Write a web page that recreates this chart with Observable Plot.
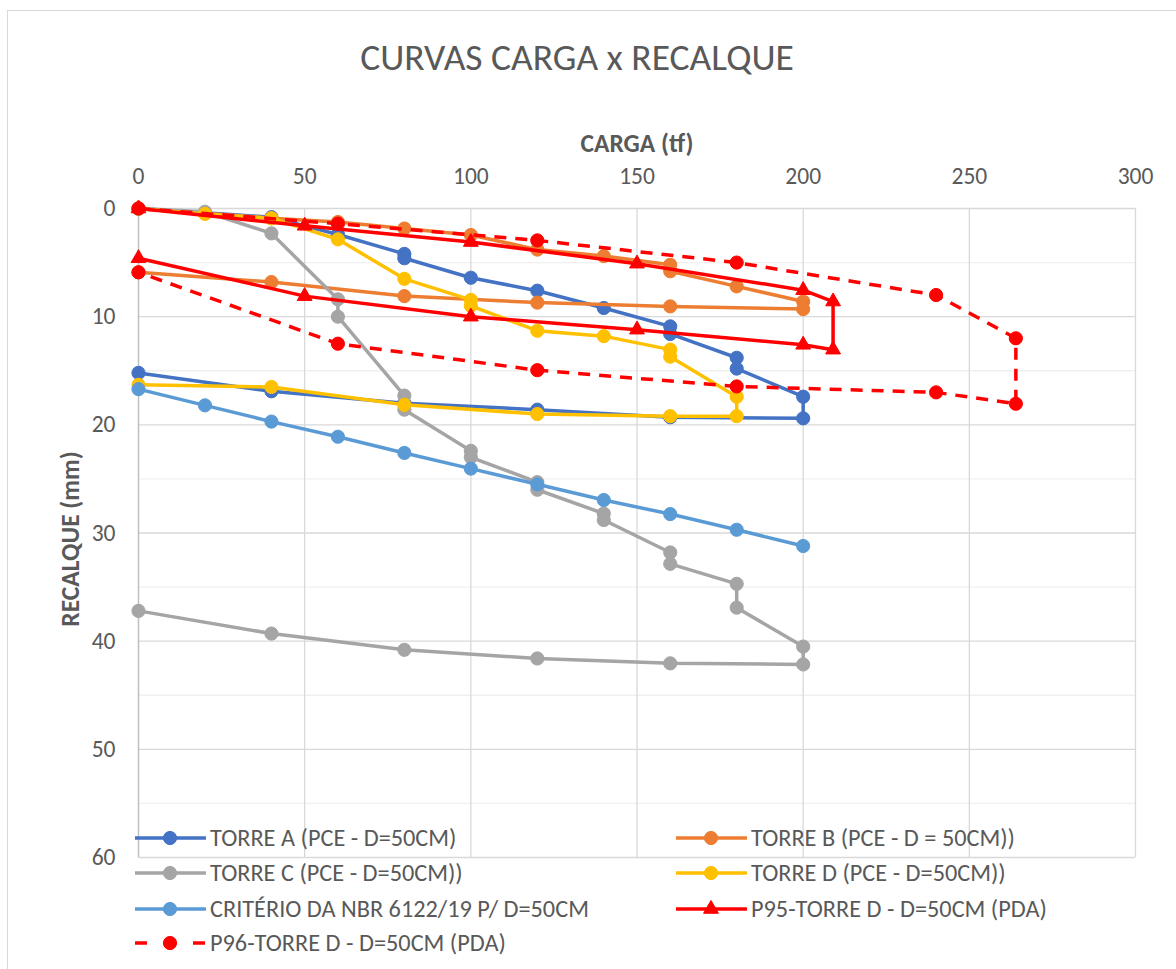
<!DOCTYPE html>
<html><head><meta charset="utf-8">
<script src="https://cdn.jsdelivr.net/npm/d3@7"></script>
<script src="https://cdn.jsdelivr.net/npm/@observablehq/plot@0.6"></script>
<style>
body{margin:0;background:#fff;}
#wrap{position:relative;width:1176px;height:969px;overflow:hidden;font-family:Carlito,Calibri,"Open Sans",sans-serif;color:#595959;}
#border{position:absolute;left:7px;top:10px;width:1220px;height:1020px;border:1.5px solid #D9D9D9;}
#chart{position:absolute;left:0;top:0;}
#title{position:absolute;left:0;width:1154px;top:33px;text-align:center;font-size:37.5px;line-height:48px;}
#legend{position:absolute;left:0;top:0;width:1176px;height:969px;}
.li{position:absolute;display:flex;align-items:center;font-size:24.3px;white-space:nowrap;height:30px;}
.li svg{margin-right:4px;}
</style></head><body>
<div id="wrap"><div id="border"></div><div id="chart"></div><div id="title">CURVAS CARGA x RECALQUE</div><div id="legend"></div></div>
<script>
// ---- data (carga tf, recalque mm) ----
const xTicks = [0, 50, 100, 150, 200, 250, 300];
const yTicks = [0, 10, 20, 30, 40, 50, 60];
const yMinor = [5, 15, 25, 35, 45, 55];

const cargaA = [0, 20, 40, 60, 80, 80, 100, 120, 140, 160, 160, 180, 180, 200, 200, 160, 120, 80, 40, 0];
const recA   = [0, 0.4, 0.8, 2.4, 4.2, 4.6, 6.4, 7.6, 9.2, 10.9, 11.6, 13.8, 14.8, 17.4, 19.4, 19.3, 18.6, 18.0, 16.9, 15.2];

const cargaB = [0, 20, 40, 60, 80, 100, 120, 140, 160, 160, 180, 200, 200, 160, 120, 80, 40, 0];
const recB   = [0, 0.45, 0.9, 1.25, 1.85, 2.45, 3.8, 4.4, 5.2, 5.8, 7.2, 8.6, 9.3, 9.05, 8.7, 8.1, 6.8, 5.9];

const cargaC = [0, 20, 40, 60, 60, 80, 80, 100, 100, 120, 120, 140, 140, 160, 160, 180, 180, 200, 200, 160, 120, 80, 40, 0];
const recC   = [0, 0.3, 2.3, 8.4, 10.0, 17.3, 18.6, 22.4, 23.0, 25.3, 26.0, 28.2, 28.8, 31.8, 32.85, 34.7, 36.9, 40.5, 42.15, 42.05, 41.6, 40.8, 39.3, 37.2];

const cargaD = [0, 20, 40, 60, 80, 100, 100, 120, 140, 160, 160, 180, 180, 160, 120, 80, 40, 0];
const recD   = [0, 0.5, 0.9, 2.85, 6.5, 8.45, 9.0, 11.3, 11.8, 13.05, 13.7, 17.4, 19.2, 19.2, 19.0, 18.15, 16.5, 16.3];

const cargaNBR = [0, 20, 40, 60, 80, 100, 120, 140, 160, 180, 200];
const recNBR   = [16.7, 18.2, 19.7, 21.1, 22.6, 24.05, 25.5, 26.95, 28.25, 29.7, 31.2];

const cargaP95 = [0, 50, 100, 150, 200, 209, 209, 200, 150, 100, 50, 0];
const recP95   = [0, 1.6, 3.1, 5.1, 7.55, 8.6, 13.05, 12.6, 11.2, 10.0, 8.1, 4.6];

const cargaP96 = [0, 60, 120, 180, 240, 264, 264, 240, 180, 120, 60, 0];
const recP96   = [0, 1.4, 2.95, 5.0, 8.0, 12.0, 18.05, 17.0, 16.45, 14.95, 12.5, 5.9];

const seriesNames = [
  "TORRE A (PCE - D=50CM)",
  "TORRE B (PCE - D = 50CM))",
  "TORRE C (PCE - D=50CM))",
  "TORRE D (PCE - D=50CM))",
  "CRITÉRIO DA NBR 6122/19 P/ D=50CM",
  "P95-TORRE D - D=50CM (PDA)",
  "P96-TORRE D - D=50CM (PDA)"
];
const seriesColors = ["#4472C4", "#ED7D31", "#A5A5A5", "#FFC000", "#5B9BD5", "#FF0000", "#FF0000"];
const seriesSymbols = ["circle", "circle", "circle", "circle", "circle", "triangle", "circle"];
const seriesDashed = [false, false, false, false, false, false, true];
const seriesX = [cargaA, cargaB, cargaC, cargaD, cargaNBR, cargaP95, cargaP96];
const seriesY = [recA, recB, recC, recD, recNBR, recP95, recP96];

const FONT = "Carlito, Calibri, 'Open Sans', sans-serif";
const DASH = "12,9";
const symR = s => s === "triangle" ? 5.5 : 6.6;

const marks = [
  Plot.gridY(yMinor, {stroke: "#F0F0F0", strokeOpacity: 1, strokeWidth: 1.3}),
  Plot.gridY(yTicks, {stroke: "#D9D9D9", strokeOpacity: 1, strokeWidth: 1.3}),
  Plot.gridX(xTicks.slice(1), {stroke: "#D9D9D9", strokeOpacity: 1, strokeWidth: 1.3}),
  Plot.ruleX([0], {stroke: "#BFBFBF", strokeWidth: 1.5}),
  Plot.axisX(xTicks, {anchor: "top", tickSize: 0, tickPadding: 25, label: null, fontSize: 23.5}),
  Plot.axisY(yTicks, {anchor: "left", tickSize: 0, tickPadding: 23, label: null, fontSize: 23.5}),
  Plot.text(["CARGA (tf)"], {frameAnchor: "top", lineAnchor: "middle", textAnchor: "middle", dy: -65, fontWeight: "bold", fontSize: 25.5, fill: "#595959"}),
  Plot.text(["RECALQUE (mm)"], {frameAnchor: "left", lineAnchor: "middle", textAnchor: "middle", dx: -68, dy: 6, rotate: -90, fontWeight: "bold", fontSize: 25.5, fill: "#595959"})
];

seriesNames.forEach((name, k) => {
  const data = seriesX[k].map((x, i) => ({x, y: seriesY[k][i]}));
  marks.push(Plot.line(data, {
    x: "x", y: "y", stroke: seriesColors[k], strokeWidth: 3.5,
    strokeDasharray: seriesDashed[k] ? DASH : null,
    strokeLinejoin: "round", strokeLinecap: seriesDashed[k] ? "butt" : "round"
  }));
  marks.push(Plot.dot(data, {
    x: "x", y: "y", symbol: seriesSymbols[k], r: symR(seriesSymbols[k]),
    fill: seriesColors[k], stroke: seriesColors[k], strokeWidth: 1
  }));
});

const chart = Plot.plot({
  width: 1176, height: 969,
  marginLeft: 138, marginRight: 41, marginTop: 208, marginBottom: 112,
  style: {fontFamily: FONT, fontSize: "23.5px", color: "#595959", background: "transparent", overflow: "visible"},
  x: {domain: [0, 300]},
  y: {domain: [0, 60], reverse: true},
  marks
});
document.getElementById("chart").append(chart);

// ---- legend (overlaps the bottom of the plot area, as in the original) ----
const legendRows = [838, 873, 909, 943];
const legendCols = [135, 676];
const legendPos = [[0,0],[1,0],[0,1],[1,1],[0,2],[1,2],[0,3]];
const leg = d3.select("#legend");
seriesNames.forEach((name, k) => {
  const [c, r] = legendPos[k];
  const item = leg.append("div").attr("class", "li")
    .style("left", legendCols[c] + "px").style("top", (legendRows[r] - 15) + "px");
  const svg = item.append("svg").attr("width", 71).attr("height", 20);
  if (seriesDashed[k]) {
    svg.append("line").attr("x1", 0).attr("x2", 12).attr("y1", 10).attr("y2", 10)
      .attr("stroke", seriesColors[k]).attr("stroke-width", 3.5);
    svg.append("line").attr("x1", 58).attr("x2", 70).attr("y1", 10).attr("y2", 10)
      .attr("stroke", seriesColors[k]).attr("stroke-width", 3.5);
  } else {
    svg.append("line").attr("x1", 0).attr("x2", 70).attr("y1", 10).attr("y2", 10)
      .attr("stroke", seriesColors[k]).attr("stroke-width", 3.5).attr("stroke-linecap", "round");
  }
  const sym = seriesSymbols[k] === "triangle" ? d3.symbolTriangle : d3.symbolCircle;
  const rr = symR(seriesSymbols[k]);
  svg.append("path").attr("transform", "translate(35,10)")
    .attr("d", d3.symbol(sym, rr * rr * Math.PI)())
    .attr("fill", seriesColors[k]).attr("stroke", seriesColors[k]);
  item.append("span").text(name);
});
</script>
</body></html>
